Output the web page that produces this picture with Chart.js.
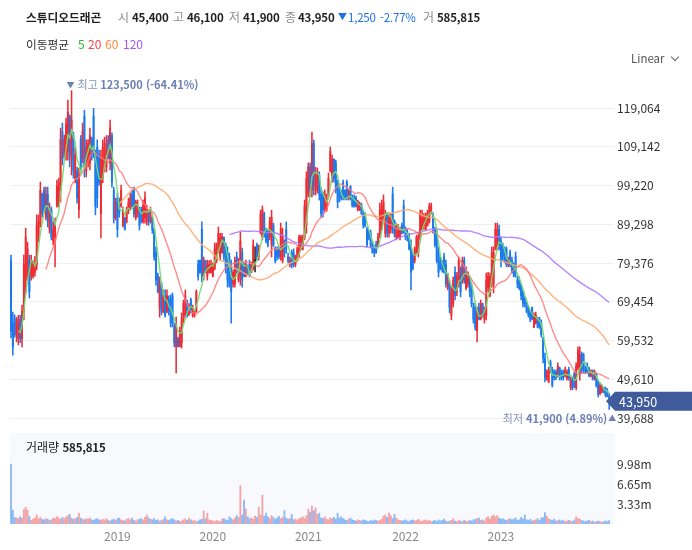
<!DOCTYPE html>
<html lang="ko">
<head>
<meta charset="utf-8">
<script src="https://cdn.jsdelivr.net/npm/chart.js@4.4.1/dist/chart.umd.min.js"></script>
<style>
  html, body { margin: 0; padding: 0; background: #fff; }
  body { width: 692px; height: 550px; position: relative; overflow: hidden;
         font-family: 'Noto Sans CJK KR', 'Noto Sans', sans-serif; color: #222; }
  .t { position: absolute; font-size: 12px; line-height: 16px; white-space: nowrap; }
  .b { font-weight: 700; color: #222; }
  .n { font-size: 11.5px; letter-spacing: -0.2px; }
  .g { color: #8c8c8c; }
  .blue { color: #1f6fe6; }
  #priceBox { position: absolute; left: 0; top: 0; width: 692px; height: 430px; }
  #volBox { position: absolute; left: 0; top: 430px; width: 692px; height: 120px; }
</style>
</head>
<body>
<div id="priceBox"><canvas id="priceChart" width="692" height="430"></canvas></div>
<div id="volBox"><canvas id="volChart" width="692" height="120"></canvas></div>

<!-- header line -->
<div class="t b" style="left:26px;top:9px;font-size:11.7px;">스튜디오드래곤</div>
<div class="t g" style="left:118px;top:9px;">시</div>
<div class="t b n" style="left:132px;top:9px;">45,400</div>
<div class="t g" style="left:173px;top:9px;">고</div>
<div class="t b n" style="left:187px;top:9px;">46,100</div>
<div class="t g" style="left:229px;top:9px;">저</div>
<div class="t b n" style="left:243px;top:9px;">41,900</div>
<div class="t g" style="left:285px;top:9px;">종</div>
<div class="t b n" style="left:298px;top:9px;">43,950</div>
<div class="t blue" style="left:338px;top:9px;font-size:9px;">▼</div>
<div class="t blue n" style="left:348px;top:9px;">1,250</div>
<div class="t blue n" style="left:380px;top:9px;">-2.77%</div>
<div class="t g" style="left:423px;top:9px;">거</div>
<div class="t b n" style="left:437px;top:9px;">585,815</div>

<!-- moving average legend -->
<div class="t" style="left:26px;top:36px;color:#333;font-size:11.7px;">이동평균</div>
<div class="t" style="left:78px;top:36px;color:#2ab52a;">5</div>
<div class="t" style="left:88px;top:36px;color:#f5474b;">20</div>
<div class="t" style="left:105px;top:36px;color:#ff8a3d;">60</div>
<div class="t" style="left:123px;top:36px;color:#a259ff;">120</div>

<div class="t" style="left:631px;top:50px;color:#555;font-size:11.5px;">Linear</div>
<div style="position:absolute;left:672px;top:54px;width:5px;height:5px;border-right:1.2px solid #666;border-bottom:1.2px solid #666;transform:rotate(45deg);"></div>

<div class="t" style="left:26px;top:439px;color:#222;">거래량 <span class="b n">585,815</span></div>

<script>
// weekly candles since listing (Nov 2017), prices in thousands of won
const opens = [
  80,64,65,61,60,65,60,67,75,76, 80,76,76,77,79,86,89,97,98,91,
  97,88,93,85,86,94,95,98,113,107, 107,108,117,106,112,101,103,93,111,106,
  117,103,105,105,111,117,107,109,107,92, 101,104,104,111,105,112,98,91,96,95,
  94,89,91,90,93,93,97,98,91,92, 93,93,90,91,90,92,90,91,88,82,
  76,68,74,67,71,67,70,70,71,63, 58,60,58,59,65,66,69,66,70,66,
  66,67,79,80,88,76,80,76,77,77, 76,78,80,83,81,82,86,84,82,81,
  79,74,74,81,
  75,76,82,79,76,78,79,77,78,80, 84,81,87,86,92,88,87,86,84,89,
  83,83,83,81,80,85,88,81,79,82, 82,79,80,81,83,83,86,89,97,104,
  98,110,98,98,102,97,97,93,93,97, 103,101,106,105,100,98,98,100,98,100,
  96,99,96,96,96,93,93,94,92,92, 88,87,87,84,83,84,84,86,88,91,
  87,92,87,88,97,90,86,86,86,89, 94,88,87,86,84,81,80,82,82,86,
  88,89,88,89,90,92,92,88,86,82, 80,79,81,79,73,74,66,69,77,72,
  74,78,75,80,73,74,
  75,73,68,68,62,68,65,69,65,66, 73,71,75,74,83,83,88,85,84,83,
  83,79,82,80,79,81,75,75,74,72, 70,69,68,67,68,63,64,65,65,64,
  60,55,49.6,49,54,52,51.5,51.5,50.5,52.5, 51.5,51.5,50.5,49.8,52,47.5,50,51,47.5,52.5,
  51,56,56,52.5,53.5,52.5,50.5,51.8,49.8,51, 49,46,46.5,47.5,47.2,46.5,45.4
];
const highs = [
  81.4,66.8,66.1,65.5,66,66,68.6,81.4,88.3,84.7, 81.4,81.4,80,81,91.7,91.7,100.1,97.3,98.8,98.8,
  98.8,94.7,93.7,90,90.9,100.6,101.1,113.9,115.2,112.1, 116.5,121.1,117.3,123.5,112.9,108.8,103.9,103.7,112,115.2,
  118.5,110.9,111,113.9,111.6,119,108.3,110.9,108.3,108.3, 110.9,111.6,112,112,116,112.7,98.8,96,97.3,96,
  99.3,93.7,91.1,93.7,96,97.3,98.1,98.8,95.5,95.5, 93.7,93.7,95.5,97.6,94.2,93,93.7,91.1,88.3,83.5,
  76.8,75.8,74.5,72.5,72.5,72.5,71,71.2,71.7,64, 65.5,60.4,63,66.6,69.9,72.5,69.9,69,70.4,68.6,
  67.3,72.5,80.1,80.1,89.9,80.9,80.1,80.1,80,80.1, 79.4,84.5,84.5,88.6,87,87,86,84.5,83.5,81.9,
  80.1,77.6,80.9,82.2,
  80.6,87.3,83.2,79.4,80.1,78.9,80.1,79.6,85.3,83.5, 84.5,84,92.9,94,92.4,88.3,87.8,91.1,92.9,89.6,
  83.5,83.5,83.5,89.6,88.3,85.3,89.9,81.9,80.9,82.7, 83,81.4,83.5,86.5,86.5,86.5,95.5,102.7,105,105,
  112.9,110.9,103.9,103.7,102.7,98.6,97.6,98.1,97,102.4, 109.1,107,106,105.7,100.6,99,98.1,100.6,98.1,100.6,
  98.1,99.2,96.8,96.8,96.5,95.5,95,94.7,92.9,92.2, 88.6,87.8,87.8,84.7,84,85,87,94.7,95.5,96.8,
  92.9,92.2,92.2,92,98.8,90.4,89.6,89.3,88.6,89.6, 95.5,88.6,88,87,85.3,81.9,83.5,86.5,87.3,92.9,
  92.9,92,92.2,92.9,94.7,94.7,92.2,88.6,87.8,83.5, 80.9,80,81.9,80.1,76.8,75,73.2,75.8,78.4,77,
  80.9,78.4,80.9,80.9,78.4,77.1,
  75.8,74.2,69.1,69.1,68.1,69.1,69.9,69.1,68.1,76.8, 77,76.8,83.5,83.5,89.6,89.6,89.1,86,84.5,83.5,
  83.5,80.9,82.7,80.9,79.4,82.2,76,75.8,74.2,72.5, 70.7,69.4,68.1,67.3,68.1,66.6,66.8,65.5,65.5,64.8,
  60.4,56.3,52,52.7,54.5,52.7,52,52,53.8,52.7, 52,52,52.7,52,52.7,50.2,50.2,51.5,53.8,57.9,
  57.9,56.6,56.3,53,53.8,52.7,52,52,52,51.2, 49.4,48.7,48.1,47.6,47.6,47.2,46.1
];
const lows = [
  60.2,55.8,60.4,59.2,58.4,59,57.9,64.8,71.7,75, 70.4,75,75.5,76,77.6,84.7,88.6,91.1,92.2,90.4,
  88.6,87,85.3,84,78.4,93.7,93.7,95,104.5,106.3, 105.7,105.7,104,101.9,101.1,99.9,94.7,90.9,103,105,
  101.4,101.4,104,103.2,105.7,106.3,91.7,93.5,99.3,85.8, 99.9,102.7,102.7,106,103.2,98.8,89.6,90.4,86,91.1,
  93.7,88.6,87.8,89.6,92,92.9,93.7,91.1,90.4,91.1, 87.8,89.6,89.6,89.6,89.1,89,89.6,87,80.1,73.7,
  71.7,65.5,66.1,66.6,65.5,66.6,66,63,63,57.9, 51.2,57.9,57.9,57.6,64,65.5,65.5,66,66.6,65.5,
  65.5,66.8,75,76.8,74.5,75,76.8,75,76.8,76.8, 75.8,77.6,79.4,81.9,80.1,81.9,80.1,76.8,73.2,73.2,
  64,73.2,73.2,76.8,
  74.5,73.7,73.2,75.8,75.8,76.3,75.8,76.9,77.6,77.1, 80.1,80.1,86.8,85.3,86,84.5,83.5,85.3,80.9,83.5,
  79.4,80.1,80.5,80.1,79.4,80.9,81.9,79.4,78.4,78.1, 78.4,78.4,79.8,80.9,82.7,82.7,85.3,87,96.3,96.3,
  96.3,96.8,96.8,97.3,95.5,91.1,91.1,92.6,92.6,96.3, 102.7,100.1,100.1,97.3,93.5,95,95.5,95.5,95.5,95.5,
  95.5,95.5,93.7,93.7,93.7,92.7,92.8,91.8,88.3,88.6, 83.5,85.3,83.2,81.9,81,81.9,83.5,85.8,87.8,90.4,
  86,86,86,87,87,86,85.3,85.8,85.3,86.8, 87,85.3,85,82.7,72.5,77.6,79.4,81.9,80.9,85.3,
  87.8,88,87.8,88.8,89.6,91.9,87,83.5,79.4,75.8, 77.6,77,76.8,73.2,72.5,66.6,64.8,68.1,69.9,71,
  73.2,70.7,74.2,74.2,72.5,73.2,
  70.7,68.1,64,62.2,59.2,64.8,64.8,65.5,64,64.8, 72,70.7,73.2,71.7,82.7,82.7,82.7,78.4,80.1,79.4,
  78.4,78.4,78.4,76.8,75.8,75.8,73,72.5,69.9,68.1, 68.1,66.6,65.5,64.3,64.8,62.8,63.8,62.8,62.6,60.4,
  53.8,48.9,49.4,48.7,51.2,47.6,49.4,49.5,50.2,49.4, 49.4,49.4,50.2,49.4,49.4,46.9,46.9,47.4,46.9,52,
  49.4,51.2,51.2,51,51.2,50.2,50.2,49.4,49.4,47.6, 45.1,45.6,46.1,46.1,45.1,45.1,41.9
];
const closes = [
  62,58,61,64,65,60,67,79,86,83, 72,80,79,79,89,90,98,92,93,97,
  90,93,86,88,89,99,100,111,106,111, 115,118,107,116,103,107,96,102,104,113,
  104,109,110,112,107,108,94,96,100,106, 109,110,108,107,114,100,91,95,88,92,
  98,93,88,93,95,96,94,92,95,94, 89,90,94,96,93,90,93,88,81,75,
  72,74,67,71,66,71,67,64,64,59, 64,58,62,65,69,71,66,68,67,68,
  67,72,76,77,76,80,77,79,79,79, 79,83,84,87,86,86,81,78,75,74,
  72,77,80,78,
  79,85,75,76,79,77,76,79,84,80, 81,83,92,93,87,85,84,90,91,84,
  80,81,81,88,86,82,83,80,80,79, 79,81,83,86,86,85,94,101,104,98,
  110,99,102,102,97,92,93,97,96,101, 108,106,101,98,95,96,96,96,96,96,
  98,96,94,94,94,95,94.5,92,89,89, 84,86,84,82,82,82,86,93,94,95,
  92,87,91,91,89,87,89,88,88,87, 88,86,86,83,77,78,83,86,86,92,
  91,91,91,92,94,94,88,84,80,77, 78,78,77,74,76,68,72,75,71,76,
  80,72,80,75,77,77,
  72,69,65,63,67,65,69,66,68,75, 76,76,82,82,88,88,84,80,81,80,
  79,80,79,77,76,77,74,73,71,69, 69,67,66,65,65,66,66,63,63,61,
  55,50,51.5,52,52,48,50,50,53,50, 50,50,52,51.5,50,49.5,47.5,48,53,57,
  56,52,52.5,51.5,51.5,50.5,51.8,49.8,51.5,48, 45.8,48,47.8,46.3,45.6,45.2,43.95
];
// weekly volume, millions of shares
const volumes = [
  9.98,2.3,1.1,1.0,0.9,1.2,1.0,2.4,2.8,2.3, 1.3,0.6,0.8,1.0,1.5,0.9,1.1,0.8,0.7,0.9,
  0.8,0.6,0.7,1.0,0.9,1.2,1.0,0.8,1.1,0.9, 1.2,1.4,1.6,1.0,0.8,0.9,1.1,1.8,1.0,0.8,
  0.7,0.9,0.8,1.0,0.7,0.6,0.8,0.9,0.7,0.6, 0.8,0.7,0.9,0.6,0.5,0.7,0.8,0.6,0.9,1.0,
  0.7,0.6,0.5,0.8,0.9,0.7,1.0,0.6,0.5,0.7, 0.8,0.9,0.7,1.1,1.5,1.0,0.8,0.7,0.9,0.6,
  0.7,0.5,0.6,0.8,1.2,0.7,0.6,0.8,0.9,0.7, 0.5,0.6,0.4,0.5,0.7,0.9,0.6,1.0,0.7,0.5,
  0.6,0.4,0.5,0.7,0.8,2.2,0.9,1.8,0.7,0.6, 0.5,0.4,0.6,0.5,0.4,0.8,0.9,0.7,0.6,1.2,
  0.9,0.7,1.0,1.4,1.1,6.4,1.5,4.0,2.5,1.2, 0.9,1.0,0.8,1.3,1.1,2.8,1.5,4.8,1.3,1.8,
  1.2,0.9,1.4,1.1,0.8,1.0,1.3,0.9,1.1,2.2, 1.0,0.8,0.9,1.6,0.7,0.8,0.6,0.9,1.0,1.2,
  0.9,1.4,2.5,2.0,3.0,2.2,2.7,1.6,1.8,1.0, 0.9,1.2,0.8,0.7,1.0,0.9,1.1,0.8,1.8,1.0,
  1.2,0.9,0.7,0.6,0.8,1.0,0.7,0.6,0.5,0.7, 0.6,0.5,0.7,0.6,0.5,0.4,0.6,0.5,0.7,0.6,
  0.5,0.6,0.8,1.3,1.5,1.1,1.8,1.4,0.9,1.6, 1.0,0.7,0.6,0.5,0.6,0.7,0.5,0.4,0.6,0.7,
  0.5,0.6,0.8,0.5,0.4,0.6,0.7,0.5,0.6,0.4, 0.5,0.6,0.4,0.7,0.5,0.6,0.8,0.5,0.4,0.5,
  0.6,0.9,0.5,0.4,0.6,0.5,0.4,0.6,0.5,0.4, 0.6,0.5,0.7,0.8,0.9,1.0,0.6,0.7,0.5,1.0,
  1.2,0.8,1.3,1.5,1.2,1.4,1.0,0.8,0.9,0.7, 0.6,0.8,0.9,0.7,0.8,1.0,0.6,0.7,1.1,0.8,
  1.5,0.7,0.6,0.8,0.5,0.6,0.7,0.9,0.6,1.0, 1.1,1.9,1.3,0.9,0.7,0.6,0.8,0.5,0.6,0.7,
  0.5,0.6,0.4,0.5,0.6,0.5,0.4,0.7,1.2,0.9, 0.8,0.6,0.5,0.4,0.5,0.6,0.4,0.5,0.3,0.4,
  0.5,0.4,0.3,0.4,0.5,0.4,0.586
];

const yearTickIdx = [58, 110, 162, 215, 267];
const yearTickText = ['2019', '2020', '2021', '2022', '2023'];
const priceTicks = [39688, 49610, 59532, 69454, 79376, 89298, 99220, 109142, 119064];
const volTicks = [3.33, 6.65, 9.98];
const maPeriods = [5, 20, 60, 120];
const maColors = ['rgba(115,218,115,0.95)', 'rgba(255,120,120,0.85)', 'rgba(255,170,110,0.9)', 'rgba(175,120,255,0.9)'];

const FONT = "'Noto Sans CJK KR', 'Noto Sans', sans-serif";
Chart.defaults.font.family = FONT;

const N = closes.length;
const weeks = Array.from({ length: N }, (_, i) => i);
const won = k => Math.round(k * 1000);
const fmt = v => Math.round(v).toLocaleString('en-US');

const UP = '#ee2b33', DOWN = '#1b78ee', FLAT = '#222';
const candleColor = closes.map((c, i) => c > opens[i] ? UP : (c < opens[i] ? DOWN : FLAT));
const volColor = closes.map((c, i) => c < opens[i] ? 'rgba(50,135,240,0.55)' : 'rgba(240,95,95,0.55)');

function movingAvg(arr, n) {
    const out = [];
    let sum = 0;
    for (let i = 0; i < arr.length; i++) {
        sum += arr[i];
        if (i >= n) sum -= arr[i - n];
        out.push(i >= n - 1 ? won(sum / n) : null);
    }
    return out;
}

const wicks = lows.map((l, i) => [won(l), won(highs[i])]);
const bodies = opens.map((o, i) => [won(o), won(closes[i])]);

// keep the plot area exactly where the layout padding puts it
function noLabelPadding(s) {
    s.paddingTop = 0;
    s.paddingBottom = 0;
}

// 최고/최저 markers and the last price tag
const markers = {
    id: 'markers',
    afterDraw(chart) {
        const { ctx, scales: { x, y } } = chart;
        const hi = Math.max(...highs), iHi = highs.indexOf(hi);
        const lo = Math.min(...lows), iLo = lows.indexOf(lo);
        const last = won(closes[N - 1]);
        ctx.save();
        ctx.textBaseline = 'middle';

        let px = x.getPixelForValue(iHi), py = y.getPixelForValue(won(hi)) - 6;
        ctx.textAlign = 'center';
        ctx.font = '8px ' + FONT;
        ctx.fillStyle = '#6f80b4';
        ctx.fillText('▼', px - 1, py);
        ctx.textAlign = 'left';
        ctx.font = '11px ' + FONT;
        ctx.fillStyle = '#8593b8';
        ctx.fillText('최고', px + 6, py);
        let w = ctx.measureText('최고 ').width;
        ctx.font = 'bold 11px ' + FONT;
        ctx.fillStyle = '#6b7fb6';
        ctx.fillText(fmt(won(hi)) + ' (' + ((last / won(hi) - 1) * 100).toFixed(2) + '%)', px + 6 + w, py);

        px = x.getPixelForValue(iLo);
        py = y.getPixelForValue(won(lo)) + 9;
        ctx.textAlign = 'center';
        ctx.font = '8px ' + FONT;
        ctx.fillStyle = '#6f80b4';
        ctx.fillText('▲', px + 3, py);
        ctx.textAlign = 'right';
        ctx.font = 'bold 11px ' + FONT;
        ctx.fillStyle = '#6b7fb6';
        const loTxt = fmt(won(lo)) + ' (' + ((last / won(lo) - 1) * 100).toFixed(2) + '%)';
        ctx.fillText(loTxt, px - 2, py);
        w = ctx.measureText(loTxt).width;
        ctx.font = '11px ' + FONT;
        ctx.fillStyle = '#8593b8';
        ctx.fillText('최저', px - 5 - w, py);

        const ty = y.getPixelForValue(last);
        ctx.fillStyle = '#3f5b9c';
        ctx.beginPath();
        ctx.moveTo(606, ty);
        ctx.lineTo(615, ty - 9.5);
        ctx.lineTo(692, ty - 9.5);
        ctx.lineTo(692, ty + 9.5);
        ctx.lineTo(615, ty + 9.5);
        ctx.closePath();
        ctx.fill();
        ctx.fillStyle = '#fff';
        ctx.textAlign = 'left';
        ctx.font = '12.5px ' + FONT;
        ctx.fillText(fmt(last), 619, ty + 0.5);
        ctx.restore();
    }
};

new Chart(document.getElementById('priceChart'), {
    type: 'bar',
    data: {
        labels: weeks,
        datasets: [
            ...maPeriods.map((p, k) => ({
                type: 'line',
                data: movingAvg(closes, p),
                borderColor: maColors[k],
                borderWidth: 1.4,
                pointRadius: 0,
                tension: 0,
                order: 0
            })),
            { data: bodies, backgroundColor: candleColor, barThickness: 1.3, grouped: false, minBarLength: 1, order: 1 },
            { data: wicks, backgroundColor: candleColor, barThickness: 0.9, grouped: false, order: 2 }
        ]
    },
    options: {
        responsive: false,
        animation: false,
        events: [],
        layout: { padding: { top: 70, bottom: 5, left: 10.1, right: 0 } },
        plugins: { legend: { display: false }, tooltip: { enabled: false } },
        scales: {
            x: { display: false },
            y: {
                position: 'right',
                min: 37896,
                max: 128794,
                afterBuildTicks: s => { s.ticks = priceTicks.map(v => ({ value: v })); },
                afterFit: s => { s.width = 81.9; noLabelPadding(s); },
                grid: { color: '#eef0f4', drawTicks: true, tickLength: 4 },
                border: { display: false },
                ticks: { padding: 3, color: '#333', font: { size: 12 }, callback: v => fmt(v) }
            }
        }
    },
    plugins: [markers]
});

const volPanel = {
    id: 'volPanel',
    beforeDraw(chart) {
        const { ctx, chartArea: a } = chart;
        ctx.save();
        ctx.fillStyle = '#f8f9fd';
        ctx.fillRect(a.left, a.top, a.right - a.left + 5, a.bottom - a.top);
        ctx.restore();
    }
};

new Chart(document.getElementById('volChart'), {
    type: 'bar',
    data: {
        labels: weeks,
        datasets: [{ data: volumes, backgroundColor: volColor, barThickness: 1.2 }]
    },
    options: {
        responsive: false,
        animation: false,
        events: [],
        layout: { padding: { top: 3, bottom: 0, left: 10.1, right: 0 } },
        plugins: { legend: { display: false }, tooltip: { enabled: false } },
        scales: {
            x: {
                grid: { display: false, drawTicks: false },
                border: { display: false },
                afterFit: s => { s.height = 26; s.paddingLeft = 0; s.paddingRight = 0; },
                ticks: {
                    autoSkip: false, maxRotation: 0, padding: 5, color: '#888', font: { size: 12 },
                    callback: (v, i) => {
                        const k = yearTickIdx.indexOf(i);
                        return k >= 0 ? yearTickText[k] : null;
                    }
                }
            },
            y: {
                position: 'right',
                min: 0,
                max: 15.15,
                afterBuildTicks: s => { s.ticks = volTicks.map(v => ({ value: v })); },
                afterFit: s => { s.width = 81.9; noLabelPadding(s); },
                grid: { display: false, drawTicks: false },
                border: { display: false },
                ticks: { padding: 7, color: '#333', font: { size: 12 }, callback: v => v.toFixed(2) + 'm' }
            }
        }
    },
    plugins: [volPanel]
});
</script>
</body>
</html>
